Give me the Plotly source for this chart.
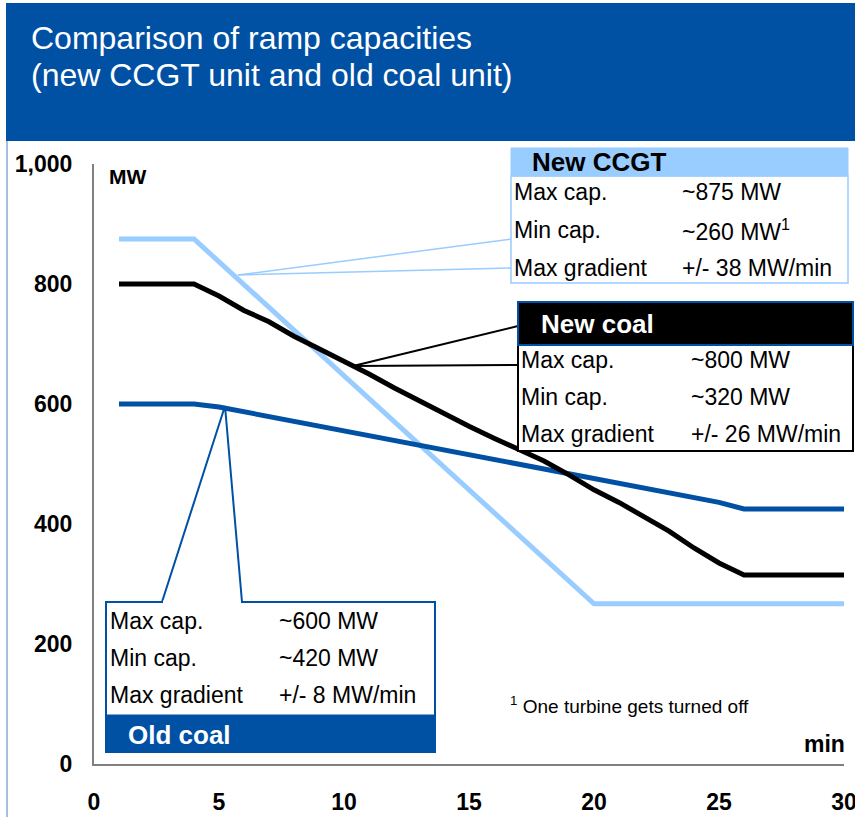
import plotly.graph_objects as go

# ---------------- data ----------------
ccgt_min = [1, 4, 20, 30]
ccgt_mw = [875, 875, 267, 267]

minutes = list(range(1, 31))
new_coal_mw = [800, 800, 800, 800, 780, 756, 737, 713, 692, 672,
               650, 627, 605, 585, 563, 543, 525, 505, 482, 457,
               436, 413, 388, 360, 335, 315, 315, 315, 315, 315]
old_coal_mw = [600, 600, 600, 600, 595, 587, 580, 570, 563, 555,
               547, 538, 530, 522, 515, 506, 498, 490, 482, 475,
               467, 458, 450, 443, 436, 425, 425, 425, 425, 425]

x_ticks = [0, 5, 10, 15, 20, 25, 30]
y_ticks = [0, 200, 400, 600, 800, 1000]

title_lines = ["Comparison of ramp capacities", "(new CCGT unit and old coal unit)"]
ccgt_rows = [("Max cap.", "~875 MW"), ("Min cap.", "~260 MW<sup>1</sup>"), ("Max gradient", "+/- 38 MW/min")]
newcoal_rows = [("Max cap.", "~800 MW"), ("Min cap.", "~320 MW"), ("Max gradient", "+/- 26 MW/min")]
oldcoal_rows = [("Max cap.", "~600 MW"), ("Min cap.", "~420 MW"), ("Max gradient", "+/- 8 MW/min")]
footnote = "<sup>1</sup> One turbine gets turned off"

# ---------------- style ----------------
W, H = 855, 817
ML, MR, MT, MB = 94, 11, 164, 53
PW, PH = W - ML - MR, H - MT - MB
DARK = "#0050A4"
LIGHT = "#99CCFF"
FONT = "Liberation Sans, Arial, sans-serif"
TXT = 23
HDR = 26


def px(x):
    return (x - ML) / PW


def py(y):
    return (H - MB - y) / PH


fig = go.Figure()
fig.add_trace(go.Scatter(x=ccgt_min, y=ccgt_mw, mode="lines", line=dict(color=LIGHT, width=5),
                         name="New CCGT"))
fig.add_trace(go.Scatter(x=minutes, y=old_coal_mw, mode="lines", line=dict(color=DARK, width=5),
                         name="Old coal"))
fig.add_trace(go.Scatter(x=minutes, y=new_coal_mw, mode="lines", line=dict(color="black", width=5),
                         name="New coal"))

shapes = []
annotations = []


def label(text, x, y, size, color="black", xanchor="left"):
    annotations.append(dict(text=text, xref="paper", yref="paper", x=px(x), y=py(y),
                            xanchor=xanchor, yanchor="middle", showarrow=False,
                            font=dict(family=FONT, size=size, color=color)))


def pline(x0, y0, x1, y1, color, width):
    shapes.append(dict(type="line", xref="paper", yref="paper", x0=px(x0), y0=py(y0), x1=px(x1), y1=py(y1),
                       line=dict(color=color, width=width)))


def prect(x0, y0, x1, y1, fill, color, width, layer="above"):
    shapes.append(dict(type="rect", xref="paper", yref="paper", x0=px(x0), x1=px(x1), y0=py(y1), y1=py(y0),
                       fillcolor=fill, line=dict(color=color, width=width), layer=layer))


# title band
prect(6, 3, 856, 141, DARK, DARK, 0, layer="below")
pline(7, 141, 7, 817, "#4A7EBB", 1)
for i, t in enumerate(title_lines):
    label(t, 29, 38 + 37 * i, 32, color="white")

# ---- New CCGT box ----
pline(238, 275, 512, 239, LIGHT, 1.5)
pline(238, 275, 512, 268, LIGHT, 1.5)
prect(511, 176, 848, 283, "white", LIGHT, 1.5)
prect(511, 148, 848, 176, LIGHT, LIGHT, 1)
label("<b>New CCGT</b>", 530, 162, HDR)
for i, (a, b) in enumerate(ccgt_rows):
    label(a, 512, 192 + 38 * i, TXT)
    label(b, 680, 192 + 38 * i, TXT)

# ---- New coal box ----
pline(353, 366, 518, 326, "black", 2)
pline(353, 366, 518, 365, "black", 2)
prect(518, 345, 853, 451, "white", "black", 2)
prect(518, 302, 853, 345, "black", DARK, 2)
label("<b>New coal</b>", 539, 324, HDR, color="white")
for i, (a, b) in enumerate(newcoal_rows):
    label(a, 519, 360 + 37 * i, TXT)
    label(b, 689, 360 + 37 * i, TXT)

# ---- Old coal box ----
prect(106, 602, 435, 752, "white", DARK, 2)
shapes.append(dict(type="path", xref="paper", yref="paper",
                   path="M {},{} L {},{} L {},{}".format(px(162), py(602), px(225), py(406), px(242), py(602)),
                   line=dict(color=DARK, width=2)))
pline(163, 602, 241, 602, "white", 3)
prect(106, 715, 435, 752, DARK, DARK, 1)
label("<b>Old coal</b>", 126, 735, HDR, color="white")
for i, (a, b) in enumerate(oldcoal_rows):
    label(a, 108, 621 + 37 * i, TXT)
    label(b, 277, 621 + 37 * i, TXT)

# footnote, axis titles
label(footnote, 508, 705, 19)
label("<b>MW</b>", 107, 176, 21)
label("<b>min</b>", 847, 744, 23, xanchor="right")

fig.update_layout(
    width=W, height=H,
    margin=dict(l=ML, r=MR, t=MT, b=MB, autoexpand=False),
    paper_bgcolor="white", plot_bgcolor="white",
    showlegend=False,
    shapes=shapes, annotations=annotations,
    xaxis=dict(range=[0, 30], tickvals=x_ticks, showgrid=False, zeroline=False,
               showline=True, linecolor="#808080", linewidth=2,
               ticks="outside", ticklen=16, tickcolor="rgba(0,0,0,0)", ticklabeloverflow="allow",
               tickfont=dict(family=FONT, size=23, color="black", weight="bold"), fixedrange=True),
    yaxis=dict(range=[0, 1000], tickvals=y_ticks, tickformat=",", showgrid=False, zeroline=False,
               showline=True, linecolor="#808080", linewidth=2,
               ticks="outside", ticklen=15, tickcolor="rgba(0,0,0,0)",
               tickfont=dict(family=FONT, size=23, color="black", weight="bold"), fixedrange=True),
)

fig.write_html("out.html", config={"displayModeBar": False},
               post_script="document.body.style.margin='0';document.body.style.overflow='hidden';")
